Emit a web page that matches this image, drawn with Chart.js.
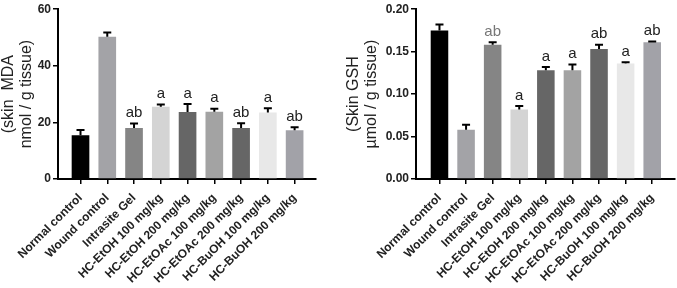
<!DOCTYPE html>
<html>
<head>
<title>Skin MDA and GSH</title>
<script src="https://cdn.jsdelivr.net/npm/chart.js"></script>
<style>
  body { margin: 0; background: #fff; }
  #left { position: absolute; left: 0; top: 0; }
  #right { position: absolute; left: 340px; top: 0; }
</style>
</head>
<body>
<canvas id="left" width="340" height="288"></canvas>
<canvas id="right" width="337" height="288"></canvas>
<script>
const groups = ['Normal control', 'Wound control', 'Intrasite Gel', 'HC-EtOH 100 mg/kg', 'HC-EtOH 200 mg/kg',
    'HC-EtOAc 100 mg/kg', 'HC-EtOAc 200 mg/kg', 'HC-BuOH 100 mg/kg', 'HC-BuOH 200 mg/kg'];
const barColors = ['#000000', '#a3a3a7', '#858585', '#d4d4d4', '#666666', '#a3a3a3', '#666666', '#e8e8e8', '#a2a2a8'];

const mdaMean = [15.5, 50.3, 18.0, 25.5, 23.7, 23.8, 18.0, 23.5, 17.2];
const mdaErr = [1.8, 1.5, 1.6, 0.8, 2.8, 1.0, 1.7, 1.5, 1.1];
const mdaLetters = ['', '', 'ab', 'a', 'a', 'a', 'ab', 'a', 'ab'];
const mdaTicks = [0, 20, 40, 60];

const gshMean = [0.175, 0.058, 0.158, 0.082, 0.128, 0.128, 0.153, 0.136, 0.161];
const gshErr = [0.007, 0.006, 0.003, 0.004, 0.004, 0.007, 0.005, 0.0015, 0.001];
const gshLetters = ['', '', 'ab', 'a', 'a', 'a', 'ab', 'a', 'ab'];
const gshTicks = [0, 0.05, 0.10, 0.15, 0.20];

const FONT = "'Liberation Sans', Arial, sans-serif";

// error bars (upper only) and significance letters
const errPlugin = {
    id: 'errbars',
    afterDatasetsDraw(chart) {
        const ctx = chart.ctx;
        const ds = chart.data.datasets[0];
        const meta = chart.getDatasetMeta(0);
        const y = chart.scales.y;
        ctx.save();
        meta.data.forEach((bar, i) => {
            const top = y.getPixelForValue(ds.data[i] + ds.err[i]);
            ctx.strokeStyle = '#000';
            ctx.lineWidth = 2;
            ctx.beginPath();
            ctx.moveTo(bar.x, bar.y);
            ctx.lineTo(bar.x, top);
            ctx.moveTo(bar.x - 4, top);
            ctx.lineTo(bar.x + 4, top);
            ctx.stroke();
            if (ds.letters[i]) {
                ctx.fillStyle = ds.letterColors ? ds.letterColors[i] : '#222';
                ctx.font = '15px ' + FONT;
                ctx.textAlign = 'center';
                ctx.textBaseline = 'bottom';
                ctx.fillText(ds.letters[i], bar.x, top - 3);
            }
        });
        ctx.restore();
    }
};

function makeChart(id, means, errs, letters, letterColors, ticks, title, yWidth, xStart, xRange, padRight, titlePad, fmt) {
    return new Chart(document.getElementById(id), {
        type: 'bar',
        data: {
            labels: groups,
            datasets: [{
                data: means,
                err: errs,
                letters: letters,
                letterColors: letterColors,
                backgroundColor: barColors,
                barPercentage: 0.66,
                categoryPercentage: 1
            }]
        },
        options: {
            responsive: false,
            animation: false,
            layout: { padding: { top: 7, right: padRight, left: 0, bottom: 0 } },
            plugins: { legend: { display: false }, tooltip: { enabled: false } },
            scales: {
                x: {
                    offset: true,
                    afterBuildTicks(s) { s._startValue = xStart; s._valueRange = xRange; },
                    afterFit(s) { s.height = 109; },
                    grid: { offset: false, drawOnChartArea: false, tickLength: 5, color: '#000', lineWidth: 1.5 },
                    border: { color: '#000', width: 2 },
                    ticks: {
                        minRotation: 45, maxRotation: 45, padding: 7, autoSkip: false,
                        color: '#222', font: { family: FONT, size: 12, weight: 'bold' }
                    }
                },
                y: {
                    min: ticks[0],
                    max: ticks[ticks.length - 1],
                    afterBuildTicks(s) { s.ticks = ticks.map(v => ({ value: v })); },
                    afterFit(s) { s.width = yWidth; },
                    grid: { drawOnChartArea: false, tickLength: 5, color: '#000', lineWidth: 1.5 },
                    border: { color: '#000', width: 2 },
                    ticks: {
                        padding: 2, color: '#222',
                        font: { family: FONT, size: 12, weight: 'bold' },
                        callback: v => fmt(v)
                    },
                    title: {
                        display: true, text: title, color: '#222',
                        padding: { top: titlePad, bottom: 0 },
                        font: { family: FONT, size: 16, lineHeight: 1.1 }
                    }
                }
            }
        },
        plugins: [errPlugin]
    });
}

makeChart('left', mdaMean, mdaErr, mdaLetters, null, mdaTicks,
    ['(skin  MDA', 'nmol / g tissue)'], 58, -0.841, 9.64, 24, 0, v => String(v));
makeChart('right', gshMean, gshErr, gshLetters,
    ['#222', '#222', '#777', '#222', '#222', '#222', '#222', '#222', '#222'], gshTicks,
    ['(Skin GSH', 'µmol / g tissue)'], 76, -0.883, 9.74, 2, 5, v => v.toFixed(2));
</script>
</body>
</html>
